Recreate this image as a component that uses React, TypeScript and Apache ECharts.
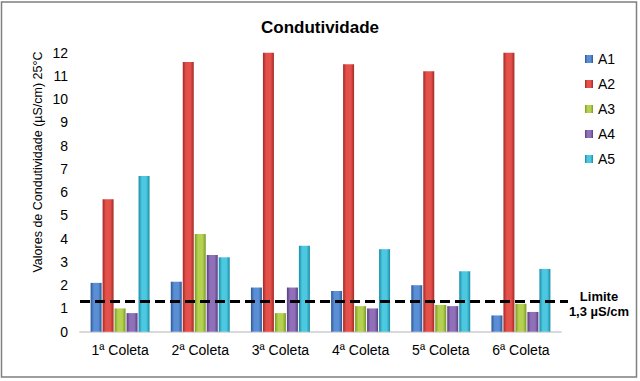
import React, { useEffect, useRef } from "react";
import * as echarts from "echarts";

const categories = ["1ª Coleta", "2ª Coleta", "3ª Coleta", "4ª Coleta", "5ª Coleta", "6ª Coleta"];
const seriesNames = ["A1", "A2", "A3", "A4", "A5"];
const a1 = [2.1, 2.15, 1.9, 1.75, 2.0, 0.7];
const a2 = [5.7, 11.6, 12.0, 11.5, 11.2, 12.0];
const a3 = [1.0, 4.2, 0.8, 1.1, 1.15, 1.2];
const a4 = [0.8, 3.3, 1.9, 1.0, 1.1, 0.85];
const a5 = [6.7, 3.2, 3.7, 3.55, 2.6, 2.7];
const seriesValues = [a1, a2, a3, a4, a5];
const limitValue = 1.3;
const yTicks = { min: 0, max: 12, interval: 1 };

const palette = [
  { dark: "#2C5897", light: "#5A8FD6" },
  { dark: "#A32A26", light: "#E4504A" },
  { dark: "#7A9829", light: "#B5D150" },
  { dark: "#5A3C80", light: "#9170BA" },
  { dark: "#1A8BA6", light: "#4CC8E0" },
];

function grad(c: { dark: string; light: string }) {
  return new echarts.graphic.LinearGradient(0, 0, 1, 0, [
    { offset: 0, color: c.dark },
    { offset: 0.3, color: c.light },
    { offset: 0.7, color: c.light },
    { offset: 1, color: c.dark },
  ]);
}

export default function App() {
  const ref = useRef<HTMLDivElement>(null);
  useEffect(() => {
    document.body.style.margin = "0";
    const chart = echarts.init(ref.current!, null, { renderer: "svg" });
    const font = "Liberation Sans, Arial, sans-serif";
    const option: any = {
      animation: false,
      backgroundColor: "#fff",
      textStyle: { fontFamily: font },
      title: {
        text: "Condutividade",
        left: "center",
        top: 14,
        textStyle: { fontSize: 17, fontWeight: "bold", color: "#000", fontFamily: font },
      },
      legend: {
        orient: "vertical",
        left: 585,
        top: 52,
        padding: 0,
        itemWidth: 8,
        itemHeight: 8,
        itemGap: 11,
        icon: "rect",
        textStyle: { fontSize: 14, color: "#000", fontFamily: font },
        data: seriesNames,
      },
      grid: { left: 80, right: 79, top: 52.7, bottom: 49.3, containLabel: false },
      xAxis: {
        type: "category",
        data: categories,
        axisTick: { show: false },
        axisLine: { lineStyle: { color: "#D9D9D9", width: 2 } },
        axisLabel: { fontSize: 14, color: "#000", margin: 11, fontFamily: font },
      },
      yAxis: {
        type: "value",
        min: yTicks.min,
        max: yTicks.max,
        interval: yTicks.interval,
        splitLine: { show: false },
        axisLine: { show: false },
        axisTick: { show: false },
        axisLabel: { fontSize: 14, color: "#000", margin: 12, fontFamily: font },
      },
      series: seriesNames.map((name, i) => ({
        name,
        type: "bar",
        data: seriesValues[i],
        barWidth: 11,
        barGap: "9%",
        itemStyle: { color: grad(palette[i]) },
      })),
    };
    chart.setOption(option);
    const yPix = chart.convertToPixel({ yAxisIndex: 0 }, limitValue) as number;
    chart.setOption({
      graphic: [
        {
          type: "rect",
          shape: { x: 1.5, y: 2, width: 635, height: 375 },
          style: { fill: "none", stroke: "#7F7F7F", lineWidth: 1.5 },
          silent: true,
        },
        {
          type: "text",
          x: 38,
          y: 162,
          rotation: Math.PI / 2,
          style: {
            text: "Valores de Condutividade (µS/cm) 25°C",
            fontSize: 12.5,
            fontFamily: font,
            fill: "#000",
            align: "center",
            verticalAlign: "middle",
          },
        },
        {
          type: "line",
          shape: { x1: 80, y1: yPix, x2: 568, y2: yPix },
          style: { stroke: "#000", lineWidth: 3, lineDash: [10, 5] },
          z: 10,
        },
        {
          type: "text",
          x: 599,
          y: yPix - 5,
          style: {
            text: "Limite",
            fontSize: 13,
            fontWeight: "bold",
            fontFamily: font,
            fill: "#000",
            align: "center",
            verticalAlign: "middle",
          },
        },
        {
          type: "text",
          x: 599,
          y: yPix + 10,
          style: {
            text: "1,3 µS/cm",
            fontSize: 13,
            fontWeight: "bold",
            fontFamily: font,
            fill: "#000",
            align: "center",
            verticalAlign: "middle",
          },
        },
      ],
    });
    return () => chart.dispose();
  }, []);
  return (
    <div
      ref={ref}
      style={{ position: "absolute", left: 0, top: 0, width: 640, height: 381, background: "#fff" }}
    />
  );
}
